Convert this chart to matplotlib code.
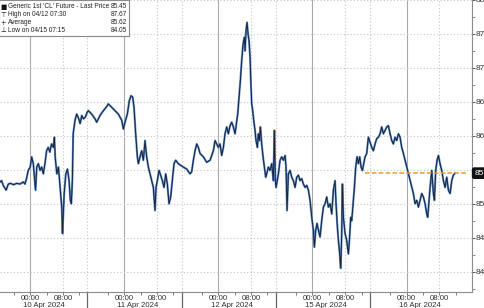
import matplotlib
matplotlib.use("Agg")
import matplotlib.pyplot as plt
from matplotlib.ticker import FixedLocator, MultipleLocator, FuncFormatter
import matplotlib.transforms as mtransforms

plt.rcParams['font.family'] = ['Liberation Sans Narrow', 'Liberation Sans', 'DejaVu Sans']

# each session runs 23 h (15:00 prev day -> 14:00), hours since session open
days = ["10 Apr 2024", "11 Apr 2024", "12 Apr 2024", "15 Apr 2024", "16 Apr 2024"]

apr10_h = [1.6, 2.0, 2.4, 3.1, 3.65, 4.2, 4.9, 5.7, 6.5, 7.3, 7.7, 8.1, 8.5, 9.0, 9.35,
           9.75, 10.0, 10.3, 10.6, 11.0, 11.4, 11.8, 12.2, 12.6, 13.0, 13.4, 13.8, 14.2,
           14.65, 14.9, 15.1, 15.5, 15.9, 16.3, 16.7, 16.9, 17.3, 17.7, 18.1, 18.5, 18.8,
           19.05, 19.3, 19.5, 19.95, 20.35, 20.75, 21.2, 21.6, 22.0, 22.4, 22.96]
apr10_p = [85.32, 85.34, 85.27, 85.20, 85.29, 85.30, 85.28, 85.30, 85.29, 85.32, 85.29,
           85.37, 85.49, 85.54, 85.69, 85.59, 85.42, 85.20, 85.54, 85.59, 85.49, 85.54,
           85.44, 85.59, 85.78, 85.83, 85.76, 85.88, 85.83, 85.98, 85.69, 85.44, 85.54,
           85.24, 84.95, 84.56, 85.15, 85.44, 85.51, 85.34, 85.05, 85.00, 85.34, 86.03,
           86.23, 86.32, 86.27, 86.18, 86.30, 86.25, 86.27, 86.35]

apr11_h = [0.21, 1.02, 1.84, 2.25, 3.06, 3.88, 4.69, 5.1, 5.91, 6.73, 7.54, 8.36, 8.77,
           9.17, 9.74, 10.23, 10.64, 11.05, 11.37, 11.78, 12.19, 12.43, 12.84, 13.25,
           13.66, 14.06, 14.47, 14.88, 15.29, 15.69, 16.1, 16.51, 16.75, 17.08, 17.48,
           17.89, 18.3, 18.71, 19.12, 19.52, 19.93, 20.34, 20.75, 21.15, 21.56, 22.21, 22.9]
apr11_p = [86.37, 86.32, 86.25, 86.20, 86.30, 86.37, 86.43, 86.47, 86.42, 86.37, 86.32,
           86.23, 86.10, 86.20, 86.32, 86.52, 86.59, 86.57, 86.42, 86.03, 85.69, 85.59,
           85.69, 85.78, 85.64, 85.93, 85.69, 85.54, 85.44, 85.34, 85.24, 84.90, 85.24,
           85.34, 85.49, 85.42, 85.34, 85.24, 85.44, 85.29, 85.00, 85.10, 85.34, 85.59,
           85.64, 85.59, 85.56]

apr12_h = [0.44, 1.25, 2.07, 2.47, 2.88, 3.29, 3.7, 4.1, 4.51, 5.33, 6.14, 6.96, 7.77,
           8.18, 8.59, 8.99, 9.4, 9.81, 10.22, 10.62, 11.03, 11.44, 11.85, 12.25, 12.66,
           13.07, 13.72, 14.05, 14.37, 14.7, 15.03, 15.35, 15.52, 15.76, 16.0, 16.25,
           16.49, 16.74, 16.98, 17.15, 17.39, 17.63, 17.96, 18.2, 18.53, 18.78, 19.02,
           19.26, 19.59, 19.92, 20.24, 20.57, 20.81, 21.22, 21.63, 22.04, 22.44, 22.69, 22.93]
apr12_p = [85.54, 85.51, 85.44, 85.47, 85.64, 85.78, 85.88, 85.83, 85.74, 85.69, 85.61,
           85.64, 85.78, 85.93, 85.88, 85.83, 85.88, 85.71, 85.83, 86.03, 86.13, 86.03,
           86.15, 86.20, 86.13, 86.03, 86.32, 86.57, 86.81, 87.11, 87.35, 87.45, 87.25,
           87.55, 87.67, 87.50, 87.40, 87.16, 86.72, 86.47, 86.37, 86.23, 86.08, 85.93,
           85.83, 86.03, 85.93, 86.13, 85.88, 85.69, 85.54, 85.39, 85.44, 85.54, 85.49,
           85.59, 85.34, 86.08, 85.34]

apr15_h = [0.1, 0.67, 1.07, 1.48, 1.89, 2.3, 2.54, 2.78, 3.11, 3.52, 3.93, 4.33, 4.74,
           5.15, 5.56, 5.96, 6.37, 6.78, 7.19, 7.59, 8.0, 8.41, 8.82, 9.22, 9.47, 9.79,
           10.12, 10.45, 10.85, 11.26, 11.67, 12.08, 12.48, 12.89, 13.3, 13.71, 14.11,
           14.52, 14.76, 15.09, 15.34, 15.66, 15.91, 16.15, 16.31, 16.56, 16.97, 17.37,
           17.78, 18.03, 18.35, 18.6, 19.0, 19.25, 19.57, 19.9, 20.23, 20.55, 20.88, 21.2,
           21.53, 21.86, 22.26, 22.67, 22.95]
apr15_p = [85.24, 85.44, 85.64, 85.69, 85.64, 85.71, 85.54, 84.90, 85.44, 85.49, 85.39,
           85.34, 85.24, 85.39, 85.42, 85.34, 85.37, 85.29, 85.24, 85.27, 85.20, 85.05,
           84.80, 84.61, 84.36, 84.61, 84.71, 84.61, 84.51, 84.75, 84.95, 85.00, 85.10,
           84.95, 85.00, 84.85, 85.20, 85.34, 85.00, 84.66, 84.46, 84.26, 84.05, 84.56,
           85.29, 84.80, 84.56, 84.46, 84.26, 84.46, 84.80, 84.75, 85.05, 85.24, 85.54,
           85.69, 85.59, 85.69, 85.54, 85.49, 85.59, 85.69, 85.74, 85.98, 85.93]

apr16_h = [0.49, 0.89, 1.3, 1.71, 2.12, 2.52, 2.93, 3.34, 3.75, 4.15, 4.56, 4.97, 5.38,
           5.78, 6.19, 6.6, 7.01, 7.41, 7.82, 8.23, 8.64, 9.04, 9.45, 9.86, 10.27, 10.67,
           11.08, 11.49, 11.9, 12.3, 12.71, 13.12, 13.53, 13.93, 14.18, 14.5, 14.75, 15.16,
           15.56, 15.81, 16.13, 16.46, 16.79, 17.19, 17.6, 18.01, 18.42, 18.82, 19.23,
           19.64, 20.05, 20.45, 20.86]
apr16_p = [85.83, 85.78, 85.88, 85.96, 85.98, 86.03, 86.13, 86.03, 86.08, 86.13, 86.15,
           86.03, 85.93, 85.88, 85.98, 85.93, 86.03, 85.98, 85.83, 85.74, 85.64, 85.54,
           85.44, 85.34, 85.24, 85.15, 85.00, 85.05, 84.95, 85.05, 85.15, 85.10, 85.00,
           84.85, 84.80, 85.05, 85.24, 85.49, 85.15, 85.05, 85.49, 85.64, 85.71, 85.59,
           85.49, 85.34, 85.24, 85.39, 85.20, 85.15, 85.34, 85.42, 85.45]

last_price = 85.45
legend_rows = [("■", "Generic 1st 'CL' Future - Last Price", "85.45"),
               ("⊤", "High on 04/12 07:30", "87.67"),
               ("+", "Average", "85.62"),
               ("⊥", "Low on 04/15 07:15", "84.05")]

SESSION = 23.0
sessions = [(apr10_h, apr10_p), (apr11_h, apr11_p), (apr12_h, apr12_p),
            (apr15_h, apr15_p), (apr16_h, apr16_p)]
xs, ys = [], []
for k, (hh, pp) in enumerate(sessions):
    xs += [SESSION * k + h for h in hh]
    ys += pp

fig = plt.figure(figsize=(4.85, 3.08), dpi=100)
ax = fig.add_axes([0, 16 / 308, 472 / 485, 292 / 308])

grid_c = "#c4c4c4"
for k in range(len(days)):
    ax.axvline(SESSION * k + 9, color="#aaaaaa", lw=0.8, zorder=0)
    ax.axvline(SESSION * k + 17, color=grid_c, lw=0.8, ls=(0, (1, 2)), zorder=0)
    if k > 0:
        ax.axvline(SESSION * k, color=grid_c, lw=0.8, ls=(0, (1, 2)), zorder=0)
ax.yaxis.grid(True, color=grid_c, lw=0.8, ls=(0, (1, 2)))
ax.set_axisbelow(True)

ax.plot(xs, ys, color="#5a8ccc", lw=1.5, zorder=2)
ax.plot(xs, ys, color="#18223a", lw=0.7, zorder=3)

# dashed level line on the last sessions
ax.plot([SESSION * 3 + 21.9, SESSION * 4 + 24.0], [last_price, last_price],
        color="#e3a21e", lw=1.1, ls=(0, (3, 1.5)), zorder=4)

ax.set_xlim(1.61, 117.0)
ax.set_ylim(83.70, 88.0)

for s in ["left", "top"]:
    ax.spines[s].set_visible(False)
for s in ["right", "bottom"]:
    ax.spines[s].set_color("#8c8c8c")
    ax.spines[s].set_linewidth(0.8)


def ylab(v, pos):
    # the price tag sits on top of this level
    if abs(v - 85.5) < 1e-6:
        return ""
    return f"{v:.1f}"


ax.yaxis.tick_right()
ax.yaxis.set_major_locator(MultipleLocator(0.5))
ax.yaxis.set_minor_locator(MultipleLocator(0.25))
ax.yaxis.set_major_formatter(FuncFormatter(ylab))
ax.tick_params(axis="y", which="major", length=2.5, width=0.7, color="#555555",
               labelsize=6, labelcolor="#333333", pad=0.4)
ax.tick_params(axis="y", which="minor", length=1.8, width=0.6, color="#777777")

major_x = []
major_lbl = []
minor_x = []
for k in range(len(days)):
    major_x += [SESSION * k + 9, SESSION * k + 17]
    major_lbl += ["00:00", "08:00"]
    minor_x += [SESSION * k + 5, SESSION * k + 13, SESSION * k + 21]
ax.xaxis.set_major_locator(FixedLocator(major_x))
ax.set_xticklabels(major_lbl)
ax.xaxis.set_minor_locator(FixedLocator(minor_x))
ax.tick_params(axis="x", which="major", length=2, width=0.6, color="#666666",
               labelsize=5.6, labelcolor="#333333", pad=0.4)
ax.tick_params(axis="x", which="minor", length=2, width=0.6, color="#666666")

trans = mtransforms.blended_transform_factory(ax.transData, ax.transAxes)
for k in range(1, len(days)):
    ax.plot([SESSION * k, SESSION * k], [0, -0.06], transform=trans, color="#666666",
            lw=0.9, clip_on=False)
for k, d in enumerate(days):
    ax.text(SESSION * k + 9 - 1.8, -0.034, d, transform=trans, ha="left", va="top",
            fontsize=5.6, color="#333333")

# current price tag on the right axis
ax.annotate(f"{last_price:.2f}", xy=(1, last_price), xycoords=ax.get_yaxis_transform(),
            xytext=(1.6, 0), textcoords="offset points", ha="left", va="center",
            fontsize=6, color="white", annotation_clip=False, zorder=10,
            bbox=dict(boxstyle="round,pad=0.2", fc="#111111", ec="#111111"))

# legend box in the top left corner
lg = fig.add_axes([-0.002, 1 - 36 / 308, 130 / 485, 36 / 308])
lg.set_xlim(0, 130)
lg.set_ylim(36, 0)
lg.set_xticks([])
lg.set_yticks([])
for s in lg.spines.values():
    s.set_color("#8a8a8a")
    s.set_linewidth(0.8)
row_y = [6.9, 15.0, 22.7, 30.3]
for (sym, label, val), yy in zip(legend_rows, row_y):
    lg.text(4, yy, sym, ha="center", va="center", fontsize=4.8, color="#111111",
            family=["DejaVu Sans"])
    lg.text(9, yy, label, ha="left", va="center", fontsize=4.7, color="#222222")
    lg.text(128, yy, val, ha="right", va="center", fontsize=4.7, color="#222222")

fig.savefig("out.png", dpi=100)
